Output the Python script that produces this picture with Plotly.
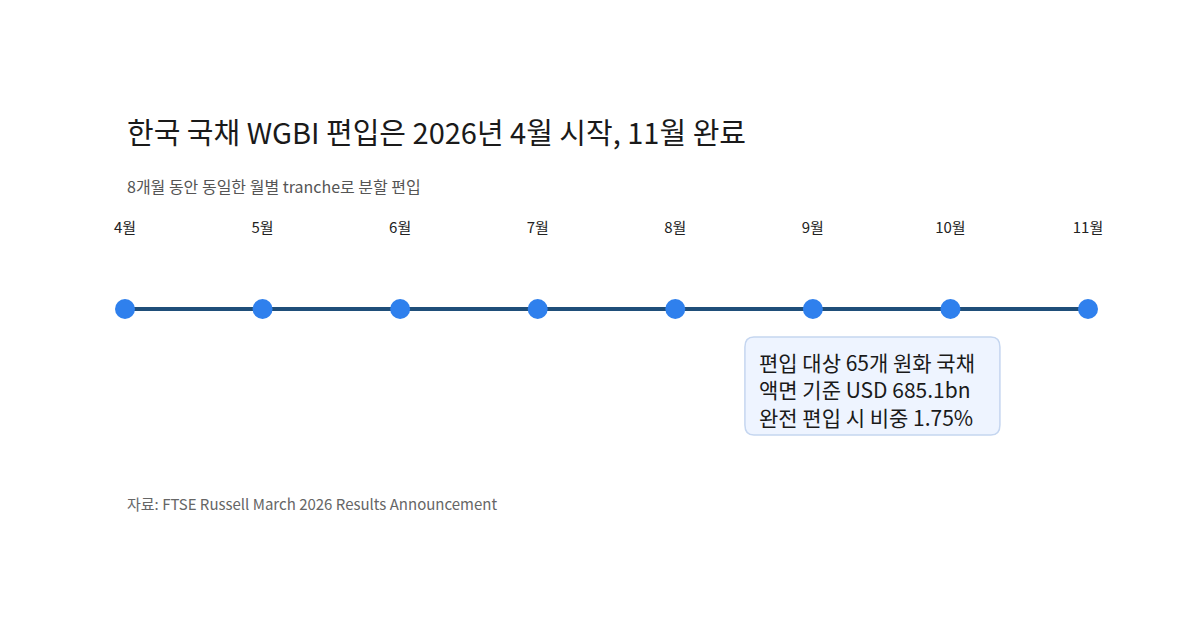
import plotly.graph_objects as go

months = ["4월", "5월", "6월", "7월", "8월", "9월", "10월", "11월"]
steps = list(range(len(months)))
note_lines = ["편입 대상 65개 원화 국채", "액면 기준 USD 685.1bn", "완전 편입 시 비중 1.75%"]

F = "Noto Sans CJK KR"
fig = go.Figure()
fig.add_trace(go.Scatter(x=steps, y=[0]*len(steps), mode="lines+markers",
    line=dict(color="#1F4E79", width=4),
    marker=dict(size=20, color="#2F80ED"), cliponaxis=False, hoverinfo="skip"))
fig.add_trace(go.Scatter(x=steps, y=[80]*len(steps), mode="text", text=months,
    textfont=dict(family=F, size=15, color="#222"), cliponaxis=False, hoverinfo="skip"))

fig.add_shape(type="path", xref="paper", yref="paper",
    path="M 0.6241,0.4778 L 0.8191,0.4778 Q 0.8266,0.4778 0.8266,0.4619 L 0.8266,0.3381 Q 0.8266,0.3222 0.8191,0.3222 L 0.6216,0.3222 Q 0.6141,0.3222 0.6141,0.3381 L 0.6141,0.4619 Q 0.6141,0.4778 0.6216,0.4778 Z",
    fillcolor="#EEF4FF", line=dict(color="#C5D6F0", width=1.5), layer="below")
fig.add_annotation(x=5, y=-80, xref="x", yref="y", text="<br>".join(note_lines),
    showarrow=False, align="left", xanchor="left", xshift=-56,
    font=dict(family=F, size=21, color="#1a1a1a"))

fig.add_annotation(x=117/1200, y=1-100/630, xref="paper", yref="paper", xanchor="left",
    text="한국 국채 WGBI 편입은 2026년 4월 시작, 11월 완료", showarrow=False,
    font=dict(family=F, size=29, color="#1a1a1a"))
fig.add_annotation(x=117/1200, y=1-164/630, xref="paper", yref="paper", xanchor="left",
    text="8개월 동안 동일한 월별 tranche로 분할 편입", showarrow=False,
    font=dict(family=F, size=16, color="#555"))
fig.add_annotation(x=117/1200, y=1-508/630, xref="paper", yref="paper", xanchor="left",
    text="자료: FTSE Russell March 2026 Results Announcement", showarrow=False,
    font=dict(family=F, size=15, color="#666"))

fig.update_layout(width=1200, height=630, margin=dict(l=0, r=0, t=0, b=0, pad=0),
    plot_bgcolor="white", paper_bgcolor="white", showlegend=False,
    xaxis=dict(visible=False, range=[-117/137.571, 7 + 120/137.571]),
    yaxis=dict(visible=False, range=[-329, 301]))
fig.write_html("out.html")
